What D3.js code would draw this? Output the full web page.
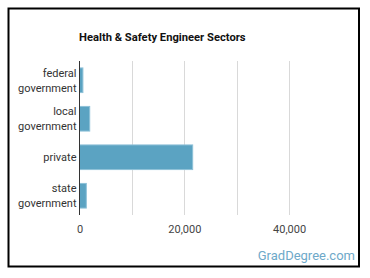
<!DOCTYPE html>
<html><head><meta charset="utf-8">
<script src="https://cdn.jsdelivr.net/npm/d3@7"></script>
<style>
html,body{margin:0;padding:0;background:#fff;}
svg{display:block;font-family:Roboto, "Open Sans", sans-serif;}
</style></head>
<body>
<svg id="c" width="370" height="278"></svg>
<script>
const categories = [["federal","government"],["local","government"],["private"],["state","government"]];
const values = [650, 1950, 21600, 1300];
const tickValues = [0, 20000, 40000];
const gridValues = [10000, 20000, 30000, 40000];
const title = "Health & Safety Engineer Sectors";
const credit = "GradDegree.com";

const svg = d3.select("#c");
svg.append("rect").attr("x",8.5).attr("y",8.5).attr("width",350.5).attr("height",258)
  .attr("fill","#fff").attr("stroke","#000").attr("stroke-width",2);

const x = d3.scaleLinear().domain([0, 50000]).range([79.5, 341.5]);
const y = d3.scaleBand().domain(d3.range(categories.length)).range([61, 215]).paddingInner(0.36).paddingOuter(0.18);

svg.append("g").selectAll("line").data(gridValues).join("line")
  .attr("x1", d=>Math.round(x(d))+0.5).attr("x2", d=>Math.round(x(d))+0.5)
  .attr("y1", 61).attr("y2", 215).attr("stroke","#d9d9d9").attr("stroke-width",1);

svg.append("g").selectAll("rect").data(values).join("rect")
  .attr("x", x(0)).attr("y", (d,i)=>y(i))
  .attr("width", d=>x(d)-x(0)).attr("height", y.bandwidth())
  .attr("fill","#5ba3c2").attr("stroke","#8ec1d8").attr("stroke-width",1);

svg.append("line").attr("x1",79.5).attr("x2",79.5).attr("y1",61).attr("y2",215)
  .attr("stroke","#333").attr("stroke-width",1);

const labels = svg.append("g").attr("font-size",11).attr("fill","#333").attr("text-anchor","end");
categories.forEach((lines,i)=>{
  const cy = y(i) + y.bandwidth()/2;
  const lh = 15;
  lines.forEach((t,j)=>{
    labels.append("text").attr("x",76.5).attr("y", cy + (j - (lines.length-1)/2)*lh + 4)
      .attr("fill","#333").text(t);
  });
});

const xAxis = d3.axisBottom(x).tickValues(tickValues).tickSize(0).tickFormat(d3.format(",d"));
const ga = svg.append("g").attr("transform","translate(0,222)").call(xAxis);
ga.select(".domain").remove();
ga.selectAll("text").attr("font-size",11).attr("fill","#444").attr("font-family","Roboto, sans-serif");

svg.append("text").attr("x",79).attr("y",41).attr("font-size",11.2).attr("font-weight","bold")
  .attr("fill","#111").text(title);

svg.append("text").attr("x",355).attr("y",260).attr("text-anchor","end").attr("font-size",13)
  .attr("fill","#6ea9c9").text(credit);
</script>
</body></html>
